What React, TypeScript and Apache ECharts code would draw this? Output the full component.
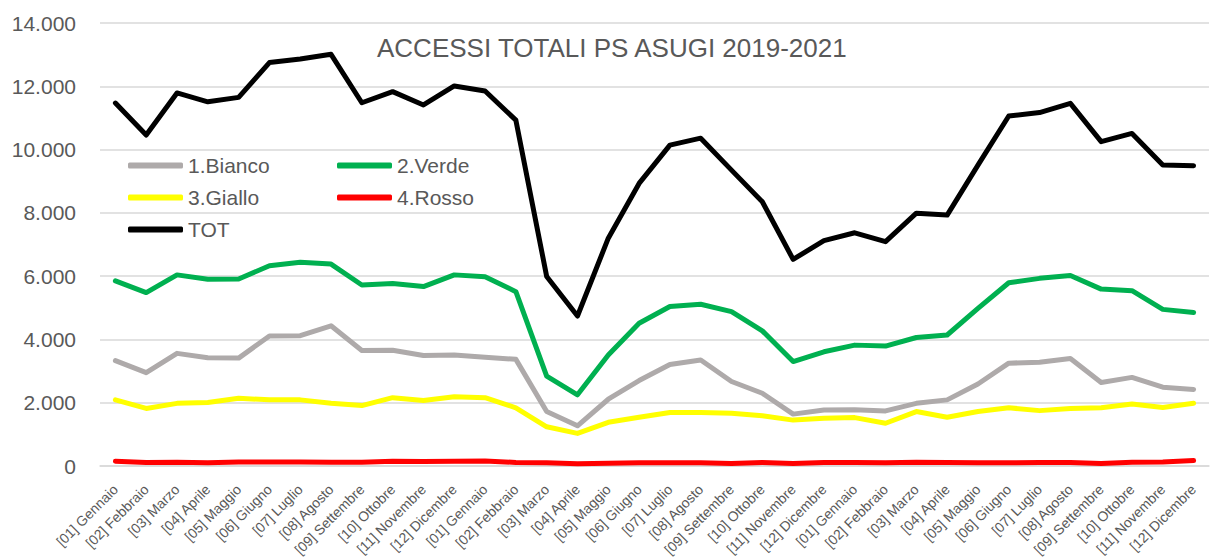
import React, { useEffect, useRef } from "react";
import * as echarts from "echarts";

const monthNames = [
  "[01] Gennaio", "[02] Febbraio", "[03] Marzo", "[04] Aprile", "[05] Maggio", "[06] Giugno",
  "[07] Luglio", "[08] Agosto", "[09] Settembre", "[10] Ottobre", "[11] Novembre", "[12] Dicembre",
];
const categories = [...monthNames, ...monthNames, ...monthNames];

const bianco = [
  3330, 2950, 3560, 3420, 3410, 4110, 4120, 4430, 3650, 3660, 3490, 3510,
  3440, 3370, 1720, 1270, 2110, 2700, 3210, 3350, 2670, 2300, 1640, 1770,
  1780, 1740, 1980, 2090, 2590, 3250, 3280, 3400, 2640, 2800, 2490, 2420,
];
const verde = [
  5850, 5480, 6040, 5900, 5910, 6330, 6440, 6380, 5720, 5770, 5670, 6040,
  5980, 5510, 2840, 2250, 3510, 4510, 5040, 5110, 4880, 4270, 3300, 3610,
  3820, 3790, 4060, 4140, 4980, 5790, 5930, 6020, 5590, 5540, 4950, 4850,
];
const giallo = [
  2090, 1820, 1980, 2010, 2140, 2090, 2090, 1980, 1910, 2160, 2070, 2190,
  2160, 1840, 1240, 1030, 1380, 1540, 1690, 1690, 1670, 1590, 1450, 1510,
  1530, 1350, 1720, 1540, 1720, 1840, 1750, 1820, 1840, 1960, 1850, 1980,
];
const rosso = [
  150, 110, 120, 100, 130, 130, 130, 120, 120, 150, 140, 150,
  160, 110, 100, 70, 90, 100, 100, 100, 80, 110, 80, 110,
  110, 100, 120, 110, 100, 100, 110, 110, 80, 120, 130, 170,
];
const tot = [
  11470, 10460, 11790, 11510, 11650, 12750, 12860, 13010, 11480, 11830, 11410, 12010,
  11850, 10930, 5990, 4740, 7200, 8930, 10140, 10360, 9350, 8350, 6530, 7120,
  7370, 7090, 7990, 7930, 9510, 11060, 11170, 11460, 10250, 10510, 9510, 9490,
];
const yTicks = [0, 2000, 4000, 6000, 8000, 10000, 12000, 14000];

const fmt = (v: number) => {
  const s = String(Math.round(v));
  return s.replace(/\B(?=(\d{3})+(?!\d))/g, ".");
};

export default function App() {
  const ref = useRef<HTMLDivElement>(null);
  useEffect(() => {
    document.body.style.margin = "0";
    if (!ref.current) return;
    const chart = echarts.init(ref.current, undefined, { renderer: "svg" });
    const font = "'Liberation Sans', Arial, sans-serif";
    const mk = (name: string, data: number[], color: string) => ({
      name,
      type: "line",
      data,
      symbol: "none",
      lineStyle: { color, width: 5, cap: "round", join: "round" },
      itemStyle: { color },
      z: name === "TOT" ? 3 : 2,
    });
    const legendText = { fontSize: 21, color: "#595959", fontFamily: font, lineHeight: 21 };
    const legendCommon = {
      orient: "vertical",
      icon: "roundRect",
      itemWidth: 55,
      itemHeight: 6,
      itemGap: 11,
      textStyle: legendText,
      padding: 0,
    };
    chart.setOption({
      animation: false,
      backgroundColor: "#ffffff",
      title: {
        text: "ACCESSI TOTALI PS ASUGI 2019-2021",
        left: 377,
        top: 35,
        padding: 0,
        textStyle: { fontSize: 26, fontWeight: "normal", color: "#595959", fontFamily: font },
      },
      legend: [
        { ...legendCommon, left: 128, top: 155, data: ["1.Bianco", "3.Giallo", "TOT"] },
        { ...legendCommon, left: 337, top: 155, data: ["2.Verde", "4.Rosso"] },
      ],
      grid: {
        left: 100,
        right: 4,
        top: 23,
        bottom: 91,
        containLabel: false,
        outerBoundsMode: "none",
      },
      xAxis: {
        type: "category",
        data: categories,
        boundaryGap: true,
        axisTick: { show: false },
        axisLine: { lineStyle: { color: "#D9D9D9", width: 1.5 } },
        axisLabel: {
          interval: 0,
          rotate: 45,
          margin: 21,
          fontSize: 14,
          color: "#595959",
          fontFamily: font,
        },
      },
      yAxis: {
        type: "value",
        min: yTicks[0],
        max: yTicks[yTicks.length - 1],
        interval: yTicks[1] - yTicks[0],
        axisLine: { show: false },
        axisTick: { show: false },
        splitLine: { lineStyle: { color: "#D9D9D9", width: 1.5 } },
        axisLabel: {
          margin: 24,
          fontSize: 21,
          color: "#595959",
          fontFamily: font,
          formatter: (v: number) => fmt(v),
        },
      },
      series: [
        mk("1.Bianco", bianco, "#AEAAAA"),
        mk("2.Verde", verde, "#00B050"),
        mk("3.Giallo", giallo, "#FFFF00"),
        mk("4.Rosso", rosso, "#FF0000"),
        mk("TOT", tot, "#000000"),
      ],
    });
    return () => chart.dispose();
  }, []);
  return <div ref={ref} style={{ width: 1213, height: 557 }} />;
}
